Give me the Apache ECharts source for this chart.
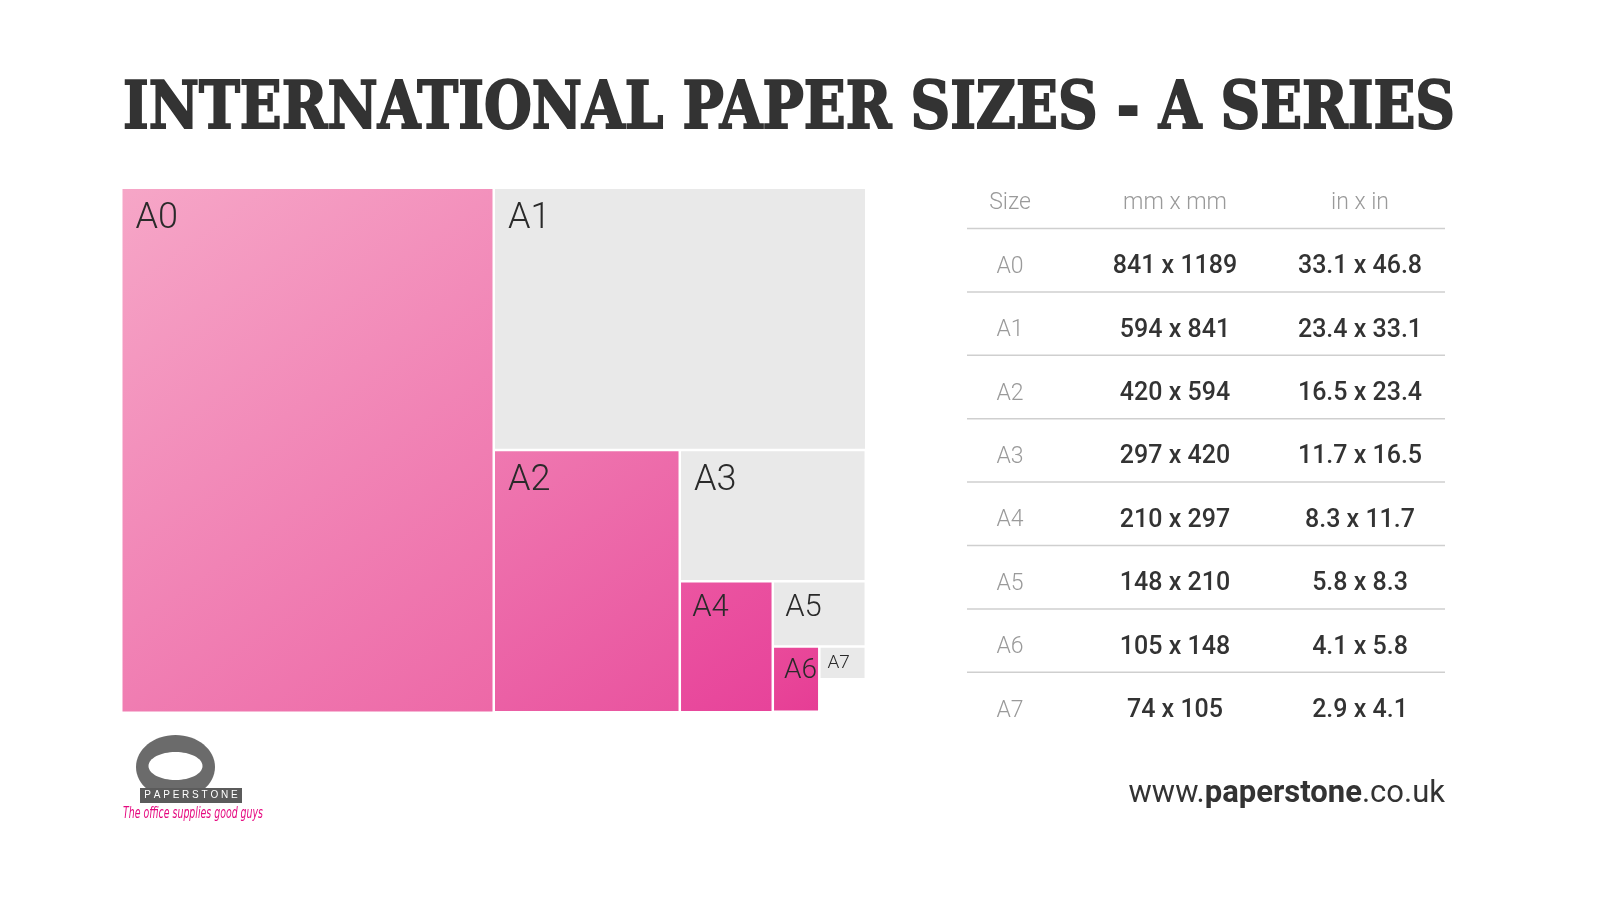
<!DOCTYPE html>
<html lang="en">
<head>
    <meta charset="UTF-8">
    <title>International Paper Sizes - A Series</title>
    <script src="https://cdn.jsdelivr.net/npm/echarts@6/dist/echarts.min.js"></script>
    <style>
        html, body {margin: 0; padding: 0; background: #fff;}
        #main {width: 1600px; height: 900px;}
    </style>
</head>
<body>
<div id="main"></div>
<script type="text/javascript">
    // paper sizes, portrait (mm)
    var sizeNames = ['A0', 'A1', 'A2', 'A3', 'A4', 'A5', 'A6', 'A7'];
    var widthMm = [841, 594, 420, 297, 210, 148, 105, 74];
    var heightMm = [1189, 841, 594, 420, 297, 210, 148, 105];
    var inchText = ['33.1 x 46.8', '23.4 x 33.1', '16.5 x 23.4', '11.7 x 16.5',
        '8.3 x 11.7', '5.8 x 8.3', '4.1 x 5.8', '2.9 x 4.1'];
    var headers = ['Size', 'mm x mm', 'in x in'];

    // styles
    var pinkFrom = ['#f6a6c7', '#ef78b0', '#eb55a1', '#e94a9a'];
    var pinkTo = ['#ed68a7', '#e9539f', '#e7439a', '#e63d95'];
    var labelSize = [36, 36, 36, 36, 31, 31, 28, 19];

    // place the sheets: even ones standing on the left, odd ones lying on top
    var rects = [];
    var rx = 0, ry = 0;
    for (var i = 0; i < sizeNames.length; i++) {
        if (i % 2 === 0) {
            rects.push([rx, ry, rx + widthMm[i], ry + heightMm[i], i]);
            rx += widthMm[i];
        } else {
            rects.push([rx, ry, rx + heightMm[i], ry + widthMm[i], i]);
            ry += widthMm[i];
        }
    }

    var chart = echarts.init(document.getElementById('main'));

    var title = 'INTERNATIONAL PAPER SIZES - A SERIES';
    var titleFont = 'bold 66px "DejaVu Serif"';
    var ctx = document.createElement('canvas').getContext('2d');
    ctx.font = titleFont;
    var titleScale = 1332 / ctx.measureText(title).width;

    var tagFont = 'italic 15px "DejaVu Sans"';
    ctx.font = tagFont;
    var tagText = 'The office supplies good guys';
    var tagScale = 140 / ctx.measureText(tagText).width;

    // table
    var colX = [1010, 1175, 1360];
    var lineTop = 228.5, rowH = 63.4;
    var graphics = [];
    graphics.push({
        type: 'text', x: 123, y: 111, scaleX: titleScale,
        style: {text: title, font: titleFont, fill: '#333', stroke: '#333', lineWidth: 2,
            textAlign: 'left', textVerticalAlign: 'middle'}
    });
    headers.forEach(function (h, c) {
        graphics.push({
            type: 'text', x: colX[c], y: 203,
            style: {text: h, fontFamily: 'Roboto', fontWeight: 300, fontSize: 23, fill: '#9a9a9a',
                textAlign: 'center', textVerticalAlign: 'middle'}
        });
    });
    for (var r = 0; r < sizeNames.length; r++) {
        var ly = lineTop + r * rowH;
        graphics.push({
            type: 'line', shape: {x1: 967, y1: ly, x2: 1445, y2: ly},
            style: {stroke: '#cfcfcf', lineWidth: 1.5}
        });
        var cy = ly + 38.5;
        graphics.push({
            type: 'text', x: colX[0], y: cy,
            style: {text: sizeNames[r], fontFamily: 'Roboto', fontWeight: 300, fontSize: 23, fill: '#9a9a9a',
                textAlign: 'center', textVerticalAlign: 'middle'}
        });
        graphics.push({
            type: 'text', x: colX[1], y: cy,
            style: {text: widthMm[r] + ' x ' + heightMm[r], fontFamily: 'Roboto', fontWeight: 500, fontSize: 25,
                fill: '#333', textAlign: 'center', textVerticalAlign: 'middle'}
        });
        graphics.push({
            type: 'text', x: colX[2], y: cy,
            style: {text: inchText[r], fontFamily: 'Roboto', fontWeight: 500, fontSize: 25,
                fill: '#333', textAlign: 'center', textVerticalAlign: 'middle'}
        });
    }

    // url
    graphics.push({
        type: 'text', x: 1445, y: 794,
        style: {
            text: '{a|www.}{b|paperstone}{a|.co.uk}',
            textAlign: 'right', textVerticalAlign: 'middle',
            rich: {
                a: {fontFamily: 'Roboto', fontWeight: 400, fontSize: 31, fill: '#333'},
                b: {fontFamily: 'Roboto', fontWeight: 'bold', fontSize: 31, fill: '#333'}
            }
        }
    });

    // logo
    graphics.push({type: 'ellipse', shape: {cx: 175.5, cy: 767, rx: 39.5, ry: 32}, style: {fill: '#6b6b6b'}});
    graphics.push({type: 'ellipse', shape: {cx: 175.5, cy: 766, rx: 27, ry: 14}, style: {fill: '#fff'}});
    graphics.push({type: 'rect', shape: {x: 140, y: 788, width: 102, height: 15}, style: {fill: '#5b5b5b'}});
    graphics.push({
        type: 'text', x: 191, y: 795.5,
        style: {text: 'P A P E R S T O N E', fontFamily: 'Liberation Sans', fontSize: 10, fill: '#fff',
            textAlign: 'center', textVerticalAlign: 'middle'}
    });
    graphics.push({
        type: 'text', x: 123, y: 814, scaleX: tagScale,
        style: {text: tagText, font: tagFont, fill: '#e5087f', textAlign: 'left', textVerticalAlign: 'middle'}
    });

    chart.setOption({
        animation: false,
        grid: {left: 122.5, top: 189, width: 745, height: 525},
        xAxis: {type: 'value', min: 0, max: 1682, show: false},
        yAxis: {type: 'value', min: 0, max: 1189, inverse: true, show: false},
        graphic: graphics,
        series: [{
            type: 'custom',
            coordinateSystem: 'cartesian2d',
            data: rects,
            silent: true,
            renderItem: function (params, api) {
                var p0 = api.coord([api.value(0), api.value(1)]);
                var p1 = api.coord([api.value(2), api.value(3)]);
                var idx = api.value(4);
                var fill;
                if (idx % 2 === 0) {
                    var k = idx / 2;
                    fill = new echarts.graphic.LinearGradient(0, 0, 1, 1, [
                        {offset: 0, color: pinkFrom[k]},
                        {offset: 1, color: pinkTo[k]}
                    ]);
                } else {
                    fill = '#e9e9e9';
                }
                var fs = labelSize[idx];
                return {
                    type: 'group',
                    children: [{
                        type: 'rect',
                        shape: {x: p0[0], y: p0[1], width: p1[0] - p0[0] - 2.5, height: p1[1] - p0[1] - 2.5},
                        style: {fill: fill}
                    }, {
                        type: 'text',
                        x: p0[0] + fs * 0.36,
                        y: p0[1] + fs * 0.82,
                        style: {text: sizeNames[idx], fontFamily: 'Roboto', fontWeight: 300, fontSize: fs,
                            fill: '#2a2a2a', textAlign: 'left', textVerticalAlign: 'middle'}
                    }]
                };
            }
        }]
    });
</script>
</body>
</html>
